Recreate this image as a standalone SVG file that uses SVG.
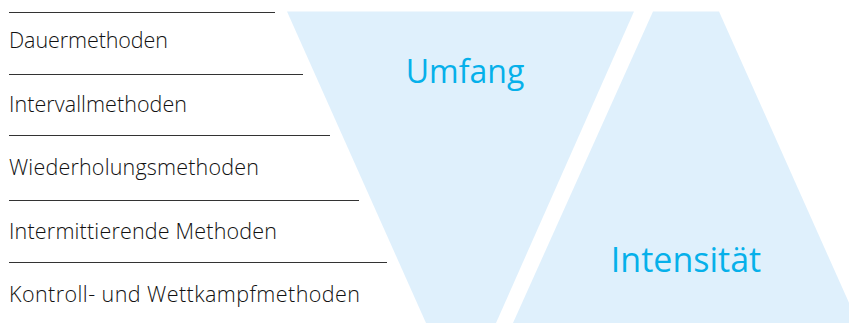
<svg xmlns="http://www.w3.org/2000/svg" width="849" height="323" viewBox="0 0 849 323">
  <style>
    .shape { fill: #dff0fc; stroke: none; }
    .rule { stroke: #333333; stroke-width: 1; fill: none; }
    .item { font-family: "Open Sans", "Noto Sans", sans-serif; font-weight: 300; font-size: 21.5px; fill: #111111; }
    .big { font-family: "Open Sans", "Noto Sans", sans-serif; fill: #06b0ea; text-anchor: middle; }
  </style>
  <rect width="849" height="323" fill="#ffffff"/>
  <g id="umfang">
    <polygon class="shape" points="287,11.5 634,11.5 496,323 426,323"/>
    <text class="big" x="465" y="83" font-size="32">Umfang</text>
  </g>
  <g id="intensitaet">
    <polygon class="shape" points="653,11.5 719,11.5 858,323 513,323"/>
    <text class="big" x="686" y="272" font-size="34">Intensität</text>
  </g>
  <g id="connectors">
    <line class="rule" x1="9" y1="12.5" x2="275" y2="12.5"/>
    <line class="rule" x1="9" y1="74.5" x2="303" y2="74.5"/>
    <line class="rule" x1="9" y1="135.5" x2="330" y2="135.5"/>
    <line class="rule" x1="9" y1="200.5" x2="359" y2="200.5"/>
    <line class="rule" x1="9" y1="262.5" x2="387" y2="262.5"/>
  </g>
  <g id="methods">
    <text class="item" x="9" y="48" textLength="159" lengthAdjust="spacing">Dauermethoden</text>
    <text class="item" x="9" y="111.5" textLength="178" lengthAdjust="spacing">Intervallmethoden</text>
    <text class="item" x="9" y="175" textLength="250" lengthAdjust="spacing">Wiederholungsmethoden</text>
    <text class="item" x="9" y="238.5" textLength="268" lengthAdjust="spacing">Intermittierende Methoden</text>
    <text class="item" x="9" y="301.5" textLength="351" lengthAdjust="spacing">Kontroll- und Wettkampfmethoden</text>
  </g>
</svg>
